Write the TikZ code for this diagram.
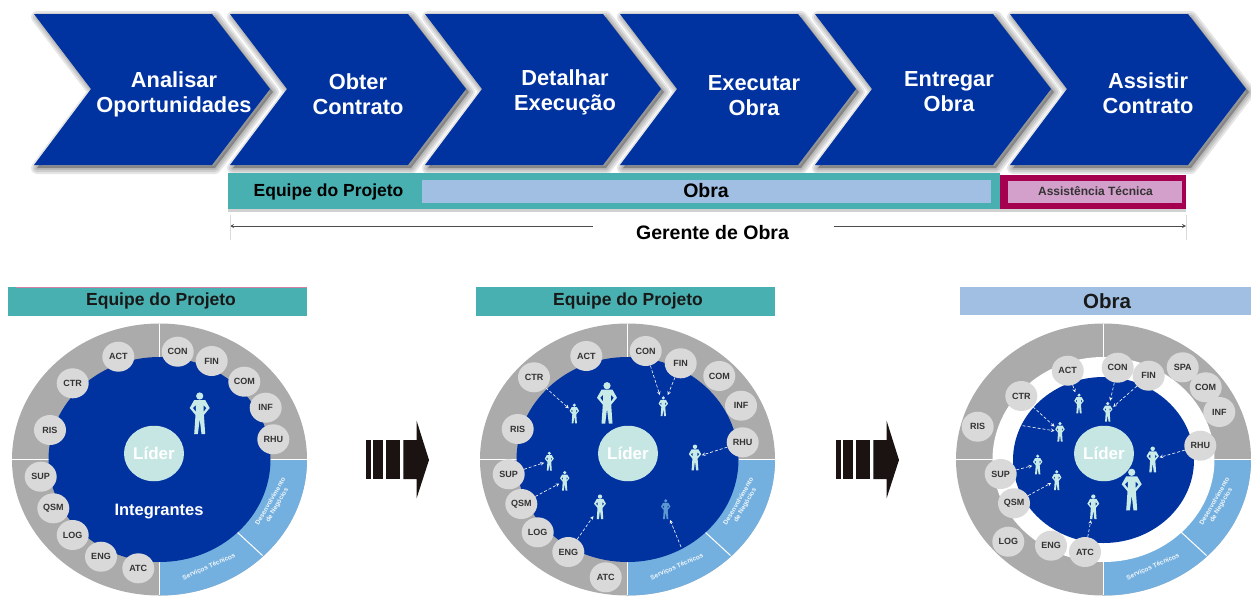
\documentclass[tikz,border=0pt]{standalone}
\usepackage{fontspec}
\setmainfont{Liberation Sans}
\usetikzlibrary{positioning}
\usetikzlibrary{shapes.geometric}
\definecolor{azul}{HTML}{0032A0}
\definecolor{cinza}{HTML}{ABABAB}
\definecolor{botao}{HTML}{D9D9D9}
\definecolor{setor}{HTML}{74B0DF}
\definecolor{lider}{HTML}{C5E6E2}
\definecolor{turquesa}{HTML}{48B0B0}
\definecolor{ceu}{HTML}{A0BFE3}
\definecolor{rosa}{HTML}{D3A0CB}
\definecolor{carmim}{HTML}{A5004F}
\definecolor{corpo}{HTML}{C9EBE8}
\definecolor{bloco}{HTML}{1A1311}
\tikzset{
	passo/.style={font=\bfseries\fontsize{21.8}{25}\selectfont, text=white, align=center},
	botaoN/.style={ellipse, fill=botao, inner sep=0pt, minimum width=32pt, minimum height=30pt,
		font=\bfseries\fontsize{9}{11}\selectfont, text=black!80},
	titulo/.style={font=\bfseries\fontsize{17.5}{20}\selectfont, text=black!90},
	setorN/.style={font=\bfseries\fontsize{6.5}{7.5}\selectfont, text=white!90!setor, align=center},
	pessoaN/.style={inner sep=0pt, outer sep=1pt},
	seta/.style={white, densely dashed, line width=.6pt, -stealth},
}
% #1 cor, #2 nome, #3 x, #4 y, #5 altura
\newcommand{\pessoa}[5][corpo]{
	\node[pessoaN, minimum width=.45*#5pt, minimum height=#5pt] (#2) at (#3,#4) {};
	\begin{scope}[shift={(#2)}, scale=#5/42]
		\fill[#1] (0,-17) circle[radius=3.6];
		\fill[#1, even odd rule] (-5.5,-13) -- (5.5,-13) -- (10,-5) -- (4.2,2) -- (5.5,21) -- (1.8,21)
			-- (0,6) -- (-1.8,21) -- (-5.5,21) -- (-4.2,2) -- (-10,-5) -- cycle
			(3.8,-8) -- (6.8,-5) -- (3.8,-1) -- cycle
			(-3.8,-8) -- (-6.8,-5) -- (-3.8,-1) -- cycle;
	\end{scope}
}
\begin{document}
\begin{tikzpicture}[x=1pt, y=-1pt]
	\useasboundingbox (0,0) rectangle (1251,595);
	% cadeia de processos
	\foreach \x in {34,230,425,620,815,1010}{
		\foreach \s in {12,8,4}{
			\fill[black, opacity=.1, draw=black, draw opacity=.1, line width=\s pt, line join=round]
				(\x+3,17) -- ++(178,0) -- ++(58,75) -- ++(-58,76) -- ++(-178,0) -- ++(57,-76) -- cycle;
		}
	}
	\foreach \x in {34,230,425,620,815,1010}{
		\fill[azul] (\x,14) -- ++(178,0) -- ++(58,75) -- ++(-58,76) -- ++(-178,0) -- ++(57,-76) -- cycle;
	}
	\foreach \nome/\x/\y/\txt in {analisar/174/94/{Analisar\\Oportunidades}, obter/358/94/{Obter\\Contrato},
		detalhar/565/92/{Detalhar\\Execução}, executar/754/95.5/{Executar\\Obra},
		entregar/949/91.5/{Entregar\\Obra}, assistir/1148/93.5/{Assistir\\Contrato}}{
		\node[passo] (\nome) at (\x,\y) {\txt};
	}
	% faixas
	\fill[black, opacity=.18] (228,209) rectangle (1186,211.5);
	\fill[carmim] (1000,175) rectangle (1186,209);
	\fill[rosa] (1008,181) rectangle (1182,203);
	\fill[turquesa] (228,173) rectangle (1000,209);
	\fill[ceu] (422,180) rectangle (991,203);
	\node[font=\bfseries\fontsize{17.5}{20}\selectfont] (equipeF) at (328.5,192) {Equipe do Projeto};
	\node[font=\bfseries\fontsize{19.5}{22}\selectfont] (obraF) at (706,190.5) {Obra};
	\node[font=\bfseries\fontsize{12}{14}\selectfont, text=black!80] (assist) at (1095.5,191.5) {Assistência Técnica};
	\node[font=\bfseries\fontsize{19.5}{22}\selectfont] (gerente) at (712.5,233) {Gerente de Obra};
	\coordinate (gerE) at (230,226);
	\coordinate (gerE2) at (593,226);
	\coordinate (gerD) at (1186,226);
	\coordinate (gerD2) at (834,226);
	\draw[black!70, line width=.8pt, -stealth] (gerE2) -- (gerE);
	\draw[black!70, line width=.8pt, -stealth] (gerD2) -- (gerD);
	\draw[black!15] (230,215) -- (230,240) (1186,215) -- (1186,240);
	% titulos
	\fill[turquesa] (8,287) rectangle (307,316);
	\draw[carmim!50, line width=.5pt] (16,287) -- (307,287);
	\fill[turquesa] (476,287) rectangle (775,316);
	\fill[ceu] (960,287) rectangle (1251,315);
	\node[titulo] (tituloA) at (161,301) {Equipe do Projeto};
	\node[titulo] (tituloB) at (628,301) {Equipe do Projeto};
	\node[titulo, font=\bfseries\fontsize{20.5}{22}\selectfont] (tituloC) at (1107,301) {Obra};
	% circulos
	\foreach \cx in {159.5,627.5,1103.5}{
		\fill[cinza] (\cx,459.5) ellipse[x radius=147.5, y radius=136];
		\fill[setor] (\cx,459.5) -- ++(147.5,0) arc[start angle=0, end angle=90, x radius=147.5, y radius=136] -- cycle;
		\draw[white, line width=1pt] (\cx-147.5,459.5) -- (\cx+147.5,459.5) (\cx,323.5) -- (\cx,595);
		\draw[white, line width=1pt] (\cx+77.5,532) -- (\cx+103,555.5);
		\node[setorN, rotate=60] (des\cx) at (\cx+114.5,503.5) {Desenvolvimento\\de Negócios};
		\node[setorN, rotate=24] (ser\cx) at (\cx+49.5,567) {Serviços Técnicos};
	}
	\fill[azul] (159.5,459.5) ellipse[x radius=111, y radius=102.5];
	\fill[azul] (627.5,459.5) ellipse[x radius=111, y radius=102.5];
	\fill[white] (1103.5,459.5) ellipse[x radius=111, y radius=102.5];
	\fill[azul] (1103.5,460) ellipse[x radius=90.5, y radius=83];
	\foreach \nome/\cx in {liderA/154,liderB/628,liderC/1104}{
		\node[ellipse, fill=lider, minimum width=60pt, minimum height=55.5pt, inner sep=0pt, text=white,
			font=\bfseries\fontsize{17}{19}\selectfont] (\nome) at (\cx,453.5) {Líder};
	}
	\node[font=\bfseries\fontsize{16.5}{18}\selectfont, text=white] (integrantes) at (159,511.5) {Integrantes};
	% botoes
	\foreach \t/\x/\y in {CON/177.7/351.7, FIN/211.7/361, COM/244.3/381.7, INF/265.7/407.7, RHU/273.3/439.3,
		ACT/118.3/356.7, CTR/72.7/383.3, RIS/50/430, SUP/40.7/476.7, QSM/53.3/508.3,
		LOG/72.7/535, ENG/101/556.7, ATC/138.3/568.3}{
		\node[botaoN] (\t-A) at (\x,\y) {\t};
	}
	\foreach \t/\x/\y in {CON/645.7/351, FIN/680.7/363.3, COM/719.3/376, INF/741/405.7, RHU/742.7/442.3,
		ACT/586.3/356, CTR/534/377.3, RIS/517.7/429, SUP/508.7/474.3, QSM/521.3/504,
		LOG/537.7/532.3, ENG/568.3/552, ATC/605.7/577.3}{
		\node[botaoN] (\t-B) at (\x,\y) {\t};
	}
	\foreach \t/\x/\y in {CON/1117.7/367.7, FIN/1148.7/375.7, SPA/1182.7/367.3, COM/1205.7/387.3, INF/1219.3/412,
		RHU/1200.3/445.7, ACT/1067.7/370.7, CTR/1021.3/396, RIS/977.7/426.7, SUP/1000.7/474,
		QSM/1014/503.3, LOG/1008.3/541.7, ENG/1051/545.7, ATC/1085/552}{
		\node[botaoN] (\t-C) at (\x,\y) {\t};
	}
	% pessoas
	\pessoa{lidA}{199.7}{413}{42}
	\pessoa{lidB}{607}{402.7}{42}
	\pessoa{ctrB}{574.3}{413.3}{20}
	\pessoa{conB}{663.3}{406}{20}
	\pessoa{rhuB}{695}{457.3}{26}
	\pessoa{supB}{549.3}{461}{19}
	\pessoa{qsmB}{564.7}{480.7}{20}
	\pessoa{engB}{600}{506.7}{25}
	\pessoa[setor!80!azul]{serB}{665.7}{509}{20}
	\pessoa{lidC}{1131.7}{489.3}{42}
	\pessoa{actC}{1079}{403.3}{20}
	\pessoa{conC}{1107.7}{411.7}{20}
	\pessoa{ctrC}{1060}{431.7}{20}
	\pessoa{rhuC}{1152.7}{459.3}{26}
	\pessoa{supC}{1037.7}{464.3}{20}
	\pessoa{qsmC}{1056.7}{480}{20}
	\pessoa{atcC}{1093.3}{506.7}{25}
	% setas
	\coordinate (serOrig) at (681,547);
	\coordinate (risOrig) at (1022.7,425.7);
	\draw[seta] (CTR-B) -- (ctrB);
	\draw[seta] (CON-B) -- (conB);
	\draw[seta] (FIN-B) -- (conB);
	\draw[seta] (RHU-B) -- (rhuB);
	\draw[seta] (SUP-B) -- (supB);
	\draw[seta] (QSM-B) -- (qsmB);
	\draw[seta] (ENG-B) -- (engB);
	\draw[seta] (serOrig) -- (serB);
	\draw[seta] (ACT-C) -- (actC);
	\draw[seta] (CON-C) -- (conC);
	\draw[seta] (FIN-C) -- (conC);
	\draw[seta] (CTR-C) -- (ctrC);
	\draw[seta] (risOrig) -- (ctrC);
	\draw[seta] (RHU-C) -- (rhuC);
	\draw[seta] (SUP-C) -- (supC);
	\draw[seta] (QSM-C) -- (qsmC);
	\draw[seta] (ATC-C) -- (atcC);
	% blocos de seta
	\foreach \dx in {0,470}{
		\fill[bloco] (365.7+\dx,440) rectangle (370.7+\dx,479);
		\fill[bloco] (373.3+\dx,440) rectangle (383.3+\dx,479);
		\fill[bloco] (385.7+\dx,440) rectangle (400+\dx,479);
		\fill[bloco] (403.3+\dx,440) -- (416.7+\dx,440) -- (416.7+\dx,421) -- (429+\dx,460)
			-- (416.7+\dx,498) -- (416.7+\dx,479) -- (403.3+\dx,479) -- cycle;
	}
\end{tikzpicture}
\end{document}
